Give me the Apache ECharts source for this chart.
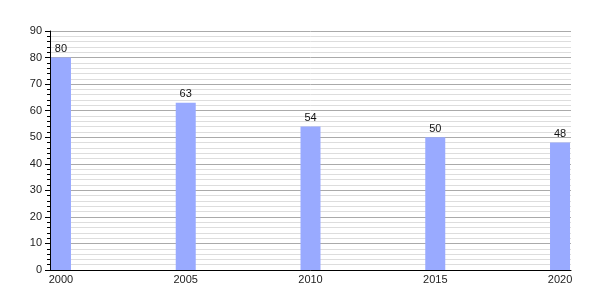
<!DOCTYPE html>
<html>
<head>
<meta charset="utf-8">
<script src="https://cdn.jsdelivr.net/npm/echarts@6/dist/echarts.min.js"></script>
<style>html,body{margin:0;padding:0;background:#fff}#c{width:600px;height:300px}</style>
</head>
<body>
<div id="c"></div>
<script>
var years = [2000, 2005, 2010, 2015, 2020];
var values = [80, 63, 54, 50, 48];
var yTicks = [0, 10, 20, 30, 40, 50, 60, 70, 80, 90];

var chart = echarts.init(document.getElementById('c'), null, {renderer: 'canvas'});
var font = 'Liberation Sans, Arial, sans-serif';
chart.setOption({
  animation: false,
  backgroundColor: '#fff',
  grid: {left: 50, right: 29, top: 31, bottom: 30},
  xAxis: {
    type: 'value',
    min: 1999.56,
    max: 2020.44,
    splitLine: {show: false},
    axisTick: {show: false},
    axisLine: {lineStyle: {color: '#000', width: 1}},
    axisLabel: {
      customValues: years,
      formatter: function (v) { return String(v); },
      color: '#222', fontSize: 11, fontFamily: font, margin: 4
    }
  },
  yAxis: {
    type: 'value',
    min: yTicks[0],
    max: yTicks[yTicks.length - 1],
    interval: 10,
    axisLine: {show: true, lineStyle: {color: '#000', width: 1}},
    axisTick: {show: true, length: 5, lineStyle: {color: '#000'}},
    minorTick: {show: true, splitNumber: 5, length: 3, lineStyle: {color: '#000'}},
    splitLine: {show: true, lineStyle: {color: '#aaaaaa', width: 1}},
    minorSplitLine: {show: true, lineStyle: {color: '#dddddd', width: 1}},
    axisLabel: {color: '#222', fontSize: 11, fontFamily: font, margin: 8}
  },
  series: [{
    type: 'bar',
    barWidth: 20,
    itemStyle: {color: '#99aaff'},
    label: {show: true, position: 'top', color: '#111', fontSize: 11, fontFamily: font, distance: 3},
    data: years.map(function (y, i) { return [y, values[i]]; })
  }]
});
</script>
</body>
</html>
